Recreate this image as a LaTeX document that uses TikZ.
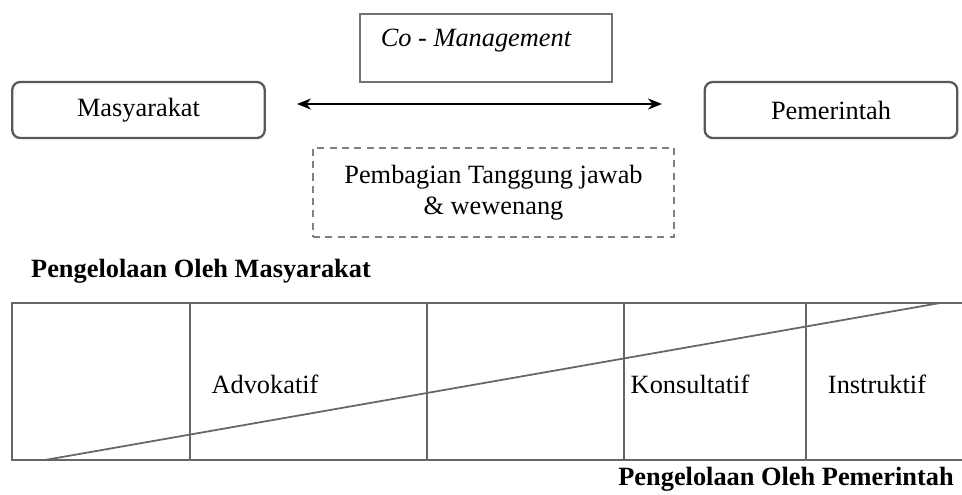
\documentclass[tikz,border=0pt]{standalone}
\usepackage{fontspec}
\setmainfont{Liberation Serif}
\usepackage{tikz}
\usetikzlibrary{arrows.meta,positioning}

\begin{document}
\begin{tikzpicture}[
  x=0.02cm, y=-0.02cm,
  font=\fontsize{15}{17.6}\selectfont,
  rbox/.style={rectangle, rounded corners=4.5pt, draw=black!65, line width=1.3pt,
    minimum width=5.05cm, minimum height=1.12cm},
  cobox/.style={rectangle, draw=black!55, line width=1.3pt,
    minimum width=5.04cm, minimum height=1.36cm},
  dbox/.style={rectangle, draw=black!50, line width=1.1pt, dash pattern=on 4pt off 3pt,
    minimum width=7.22cm, minimum height=1.78cm, align=center},
  head/.style={font=\fontsize{15}{17.6}\selectfont\bfseries},
  cell/.style={font=\fontsize{15}{17.6}\selectfont},
  arrow/.style={{Stealth[length=2.8mm,width=2.2mm]}-{Stealth[length=2.8mm,width=2.2mm]}, line width=1.1pt, draw=black},
  grid/.style={line width=1.2pt, draw=black!60},
  slope/.style={line width=1pt, draw=black!60}
]
  \useasboundingbox (0,0) rectangle (962,494);

  % upper part
  \node[cobox] (co) at (486,48) {};
  \node[font=\fontsize{15}{17.6}\selectfont\itshape] (cotxt) at (476,41) {Co - Management};
  \node[rbox] (masy) at (138.5,110) {Masyarakat};
  \node[rbox] (pem) at (831,110) {Pemerintah};
  \coordinate (al) at (297,104);
  \coordinate (ar) at (662,104);
  \draw[arrow] (al) -- (ar);
  \node[dbox] (bagi) at (493.5,192.5) {Pembagian Tanggung jawab\\\& wewenang};

  % lower part
  \node[head] (hm) at (201,271) {Pengelolaan Oleh Masyarakat};
  \coordinate (tl) at (12,303);
  \coordinate (tr) at (962,303);
  \coordinate (bl) at (12,460);
  \coordinate (br) at (962,460);
  \draw[grid] (tr) -- (tl) -- (bl) -- (br);
  \foreach \xx in {190,427,624,806}
    \draw[grid] (\xx,303) -- (\xx,460);
  \coordinate (s0) at (45,460);
  \coordinate (s1) at (940,303);
  \draw[slope] (s0) -- (s1);
  \node[cell] (adv) at (265,384) {Advokatif};
  \node[cell] (kon) at (690,384) {Konsultatif};
  \node[cell] (ins) at (877,384) {Instruktif};
  \node[head] (hp) at (786,479) {Pengelolaan Oleh Pemerintah};
\end{tikzpicture}
\end{document}
